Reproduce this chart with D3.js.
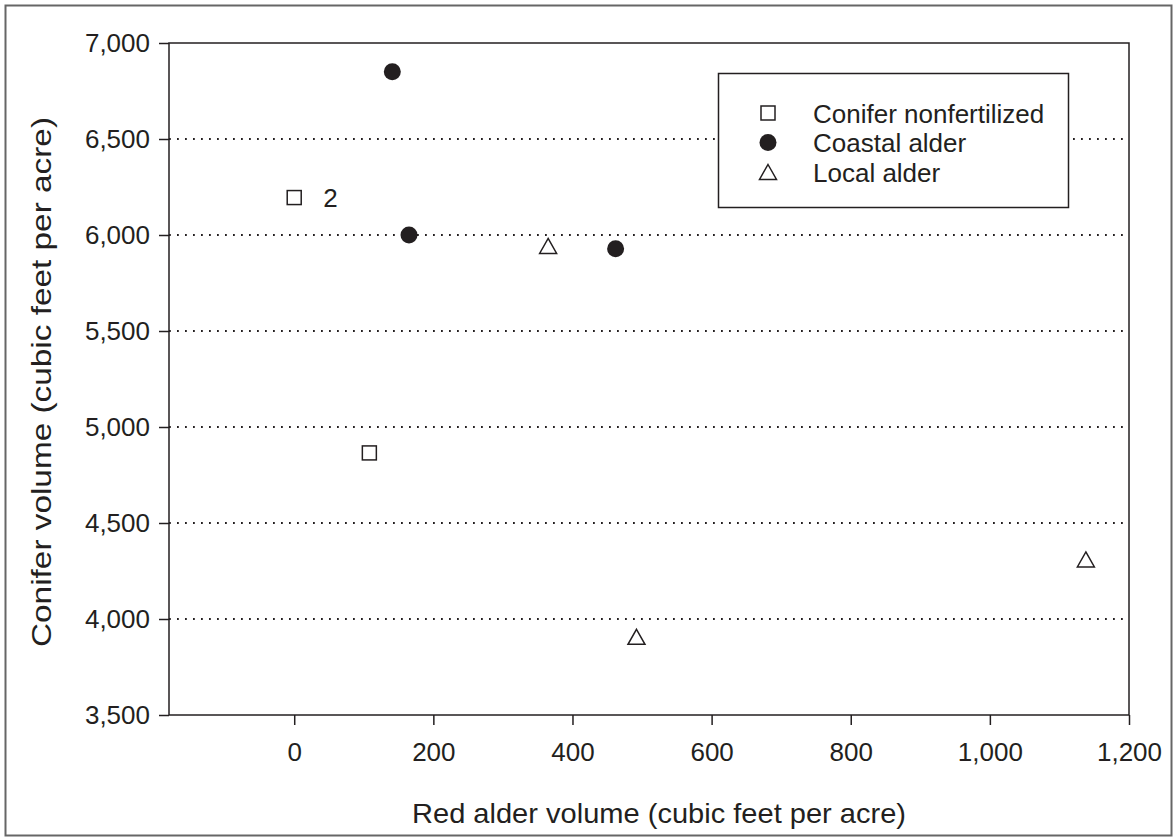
<!DOCTYPE html>
<html><head><meta charset="utf-8">
<script src="https://cdn.jsdelivr.net/npm/d3@7"></script>
<style>
body{margin:0;background:#fff}
text{font-family:"Liberation Sans",Arial,Helvetica,sans-serif;fill:#231f20}
</style>
</head><body>
<svg id="c" width="1176" height="840"></svg>
<script>
// ---- data ----
const xTicks = [0, 200, 400, 600, 800, 1000, 1200];
const yTicks = [3500, 4000, 4500, 5000, 5500, 6000, 6500, 7000];
const gridValues = [4000, 4500, 5000, 5500, 6000, 6500];
const seriesNames = ["Conifer nonfertilized", "Coastal alder", "Local alder"];
const coniferX = [0, 108];
const coniferY = [6195, 4865];
const coastalX = [141, 165, 462];
const coastalY = [6850, 6000, 5928];
const localX = [365, 492, 1138];
const localY = [5943, 3907, 4310];
const pointLabels = [{x: 0, y: 6195, text: "2"}];
const xTitle = "Red alder volume (cubic feet per acre)";
const yTitle = "Conifer volume (cubic feet per acre)";

// ---- layout ----
const svg = d3.select("#c");
const ink = "#231f20";
const FS = 26;
const x = d3.scaleLinear().domain([-180, 1200]).range([169, 1129]);
const y = d3.scaleLinear().domain([3500, 7000]).range([715, 43]);

// outer border
svg.append("rect").attr("x", 5.5).attr("y", 5.5).attr("width", 1166).attr("height", 830)
  .attr("fill", "none").attr("stroke", "#666").attr("stroke-width", 2);

// gridlines
svg.append("g").selectAll("line").data(gridValues).join("line")
  .attr("x1", x.range()[0]).attr("x2", x.range()[1])
  .attr("y1", d => y(d)).attr("y2", d => y(d))
  .attr("stroke", ink).attr("stroke-width", 1.8).attr("stroke-dasharray", "1.8,6.2");

// axes
const yAxis = svg.append("g").attr("transform", `translate(${x.range()[0]},0)`)
  .call(d3.axisLeft(y).tickValues(yTicks).tickFormat(d3.format(",")).tickSize(10).tickPadding(9));
const xAxis = svg.append("g").attr("transform", `translate(0,${y.range()[0]})`)
  .call(d3.axisBottom(x).tickValues(xTicks).tickFormat(d3.format(",")).tickSize(10).tickPadding(18));
[yAxis, xAxis].forEach(g => {
  g.select(".domain").remove();
  g.selectAll(".tick line").attr("stroke", ink).attr("stroke-width", 1.5);
  g.selectAll(".tick text").attr("font-size", FS).attr("fill", ink)
    .attr("font-family", '"Liberation Sans",Arial,sans-serif');
});

// frame
svg.append("rect").attr("x", x.range()[0]).attr("y", y.range()[1])
  .attr("width", x.range()[1] - x.range()[0]).attr("height", y.range()[0] - y.range()[1])
  .attr("fill", "none").attr("stroke", ink).attr("stroke-width", 1.5);

// symbols
const sq = 14, cr = 8.5;
const triPath = "M0,-7.5L8.5,7.5L-8.5,7.5Z";
function drawSymbol(g, type, cx, cy) {
  if (type === 0) {
    g.append("rect").attr("x", cx - sq/2).attr("y", cy - sq/2).attr("width", sq).attr("height", sq)
      .attr("fill", "#fff").attr("stroke", ink).attr("stroke-width", 1.5);
  } else if (type === 1) {
    g.append("circle").attr("cx", cx).attr("cy", cy).attr("r", cr).attr("fill", ink);
  } else {
    g.append("path").attr("d", triPath).attr("transform", `translate(${cx},${cy})`)
      .attr("fill", "#fff").attr("stroke", ink).attr("stroke-width", 1.5);
  }
}
const series = [
  {xs: coniferX, ys: coniferY},
  {xs: coastalX, ys: coastalY},
  {xs: localX, ys: localY}
];
const pts = svg.append("g");
series.forEach((s, i) => s.xs.forEach((v, j) => drawSymbol(pts, i, x(v), y(s.ys[j]))));

// point labels
svg.append("g").selectAll("text").data(pointLabels).join("text")
  .attr("x", d => x(d.x) + 29).attr("y", d => y(d.y) + 9.5)
  .attr("font-size", FS).text(d => d.text);

// legend
const lg = svg.append("g");
lg.append("rect").attr("x", 718.5).attr("y", 73.5).attr("width", 350).attr("height", 134)
  .attr("fill", "#fff").attr("stroke", ink).attr("stroke-width", 1.5);
seriesNames.forEach((name, i) => {
  const cy = 113 + i * 29.5;
  drawSymbol(lg, i, 768, cy);
  lg.append("text").attr("x", 813).attr("y", cy + 9.5).attr("font-size", FS).text(name);
});

// axis titles
svg.append("text").attr("x", 412).attr("y", 823).attr("text-anchor", "start")
  .attr("font-size", 28).attr("textLength", 494).attr("lengthAdjust", "spacingAndGlyphs").text(xTitle);
svg.append("text").attr("transform", "translate(51,647) rotate(-90)").attr("text-anchor", "start")
  .attr("font-size", 28.5).attr("textLength", 530).attr("lengthAdjust", "spacingAndGlyphs").text(yTitle);
</script>
</body></html>
